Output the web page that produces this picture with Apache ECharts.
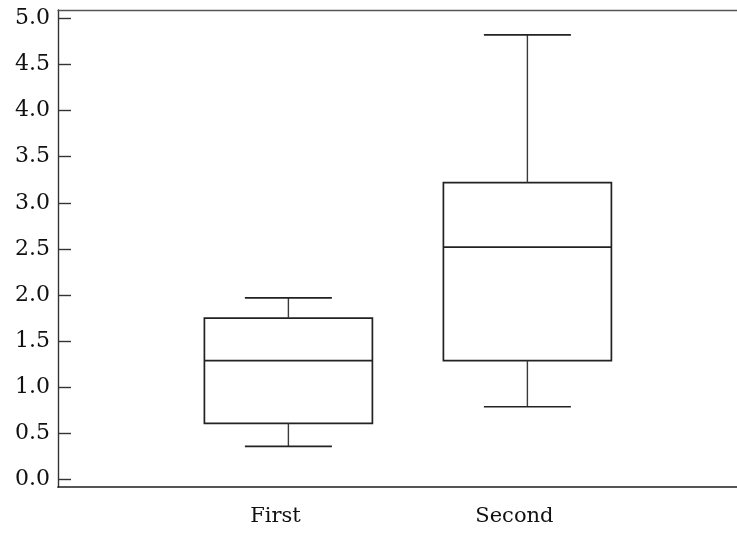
<!DOCTYPE html>
<html>
<head>
<meta charset="utf-8">
<script src="https://cdn.jsdelivr.net/npm/echarts@6/dist/echarts.min.js"></script>
<style>html,body{margin:0;padding:0;background:#fff}#c{width:737px;height:533px}</style>
</head>
<body>
<div id="c"></div>
<script>
var categories = ['First', 'Second'];
var lowerWhisker = [0.36, 0.79];
var q1 = [0.61, 1.29];
var median = [1.29, 2.52];
var q3 = [1.75, 3.22];
var upperWhisker = [1.97, 4.82];
var yTicks = [0, 0.5, 1, 1.5, 2, 2.5, 3, 3.5, 4, 4.5, 5];

var data = categories.map(function (c, i) {
  return [i + 1, lowerWhisker[i], q1[i], median[i], q3[i], upperWhisker[i]];
});

var chart = echarts.init(document.getElementById('c'), null, {renderer: 'canvas'});
var BOX_W = 168, CAP_W = 87, INK = '#222';
var XMIN = 0.036, XMAX = 2.877;
chart.setOption({
  backgroundColor: '#fff',
  animation: false,
  grid: {left: 58, right: 0, top: 10, bottom: 46, show: false},
  xAxis: [{
    type: 'value', min: XMIN, max: XMAX,
    splitLine: {show: false},
    axisLine: {show: true, onZero: false, lineStyle: {color: '#1e1e1e', width: 1.7}},
    axisTick: {show: false},
    axisLabel: {
      customValues: [1, 2],
      formatter: function (v) { return categories[Math.round(v) - 1] || ''; },
      fontFamily: 'DejaVu Serif', fontSize: 21, color: '#111', margin: 19,
      padding: [0, 26, 0, 0]
    }
  }, {
    type: 'value', position: 'top', min: XMIN, max: XMAX,
    splitLine: {show: false},
    axisLine: {show: true, onZero: false, lineStyle: {color: '#555', width: 1.3}},
    axisTick: {show: false},
    axisLabel: {show: false}
  }],
  yAxis: {
    type: 'value', min: -0.08, max: 5.09,
    splitLine: {show: false},
    axisLine: {show: true, onZero: false, lineStyle: {color: '#333', width: 1.4}},
    axisTick: {show: true, inside: true, length: 13, customValues: yTicks, lineStyle: {color: '#333', width: 1.4}},
    axisLabel: {
      customValues: yTicks,
      formatter: function (v) { return v.toFixed(1); },
      fontFamily: 'DejaVu Serif', fontSize: 22, color: '#111', margin: 8
    }
  },
  series: [{
    type: 'custom',
    xAxisIndex: 0,
    data: data,
    encode: {x: 0, y: [1, 2, 3, 4, 5]},
    renderItem: function (params, api) {
      var x = api.value(0);
      var pLo = api.coord([x, api.value(1)]);
      var pQ1 = api.coord([x, api.value(2)]);
      var pMd = api.coord([x, api.value(3)]);
      var pQ3 = api.coord([x, api.value(4)]);
      var pHi = api.coord([x, api.value(5)]);
      var cx = pMd[0];
      var hb = BOX_W / 2, hc = CAP_W / 2;
      var st = {stroke: INK, lineWidth: 1.7, fill: null};
      var st2 = {stroke: '#3a3a3a', lineWidth: 1.4, fill: null};
      return {
        type: 'group',
        children: [
          {type: 'rect', shape: {x: cx - hb, y: pQ3[1], width: BOX_W, height: pQ1[1] - pQ3[1]}, style: {stroke: INK, lineWidth: 1.7, fill: '#fff'}},
          {type: 'line', shape: {x1: cx - hb, y1: pMd[1], x2: cx + hb, y2: pMd[1]}, style: st},
          {type: 'line', shape: {x1: cx, y1: pQ3[1], x2: cx, y2: pHi[1]}, style: st2},
          {type: 'line', shape: {x1: cx, y1: pQ1[1], x2: cx, y2: pLo[1]}, style: st2},
          {type: 'line', shape: {x1: cx - hc, y1: pHi[1], x2: cx + hc, y2: pHi[1]}, style: st},
          {type: 'line', shape: {x1: cx - hc, y1: pLo[1], x2: cx + hc, y2: pLo[1]}, style: st}
        ]
      };
    }
  }]
});
</script>
</body>
</html>
